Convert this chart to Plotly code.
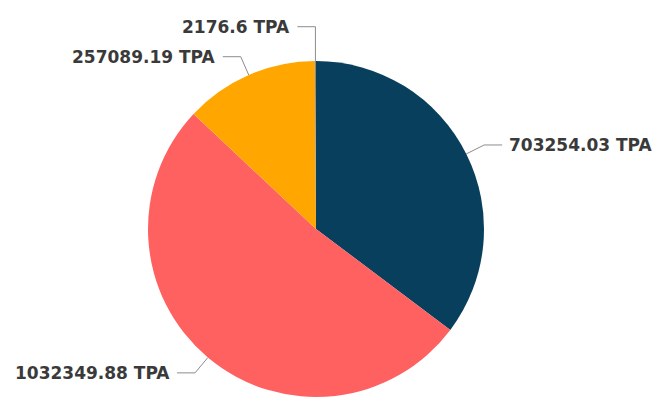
import math
import plotly.graph_objects as go

# slice values, clockwise from 12 o'clock
values = [703254.03, 1032349.88, 257089.19, 2176.6]
labels = ['703254.03 TPA', '1032349.88 TPA', '257089.19 TPA', '2176.6 TPA']
colors = ['#073f5c', '#ff6161', '#ffa600', '#8a8a8a']

W, H = 664, 401
# the page body has an 8px margin, so figure coords = screen coords - 8
CX, CY, R = 308, 221, 168

fig = go.Figure()

fig.add_trace(go.Pie(
    values=values, labels=labels, sort=False, direction='clockwise', rotation=0,
    marker=dict(colors=colors, line=dict(width=0)),
    textinfo='none', hoverinfo='label', showlegend=False,
    domain=dict(x=[(CX - R) / W, (CX + R) / W], y=[1 - (CY + R) / H, 1 - (CY - R) / H]),
))

# outside labels with elbow connectors, placed from each slice's mid angle
total = sum(values)
cum = 0
pts = []
for v, lab in zip(values, labels):
    mid = (cum + v / 2) / total * 2 * math.pi
    cum += v
    sx, cy_ = math.sin(mid), -math.cos(mid)
    p0 = (CX + R * sx, CY + R * cy_)
    p1 = [CX + (R + 20) * sx, CY + (R + 20) * cy_]
    pts.append([lab, mid, p0, p1])

# push left-side labels apart (bottom to top)
left = sorted([p for p in pts if math.sin(p[1]) < 0], key=lambda p: -p[3][1])
for a, b in zip(left, left[1:]):
    if a[3][1] - b[3][1] < 30:
        b[3][1] = a[3][1] - 30

for lab, mid, p0, p1 in pts:
    side = 1 if math.sin(mid) >= 0 else -1
    p2 = (p1[0] + side * 18, p1[1])
    if abs(p0[0] - p1[0]) < 3:
        xs, ys = [p0[0], p0[0], p2[0]], [p0[1], p1[1], p2[1]]
    else:
        xs, ys = [p0[0], p1[0], p2[0]], [p0[1], p1[1], p2[1]]
    fig.add_trace(go.Scatter(x=xs, y=ys, mode='lines', line=dict(color='#8c8c8c', width=1),
                             hoverinfo='skip', showlegend=False))
    fig.add_annotation(x=p2[0] + side * 5, y=p2[1], text=lab, showarrow=False,
                       xanchor='left' if side > 0 else 'right', yanchor='middle',
                       font=dict(family='DejaVu Sans', size=17, color='#3a3a3a', weight='bold'))

fig.update_layout(
    width=W, height=H,
    margin=dict(l=0, r=0, t=0, b=0),
    paper_bgcolor='white', plot_bgcolor='rgba(0,0,0,0)',
    xaxis=dict(range=[0, W], visible=False, fixedrange=True),
    yaxis=dict(range=[H, 0], visible=False, fixedrange=True),
)

fig.write_html("out.html")
